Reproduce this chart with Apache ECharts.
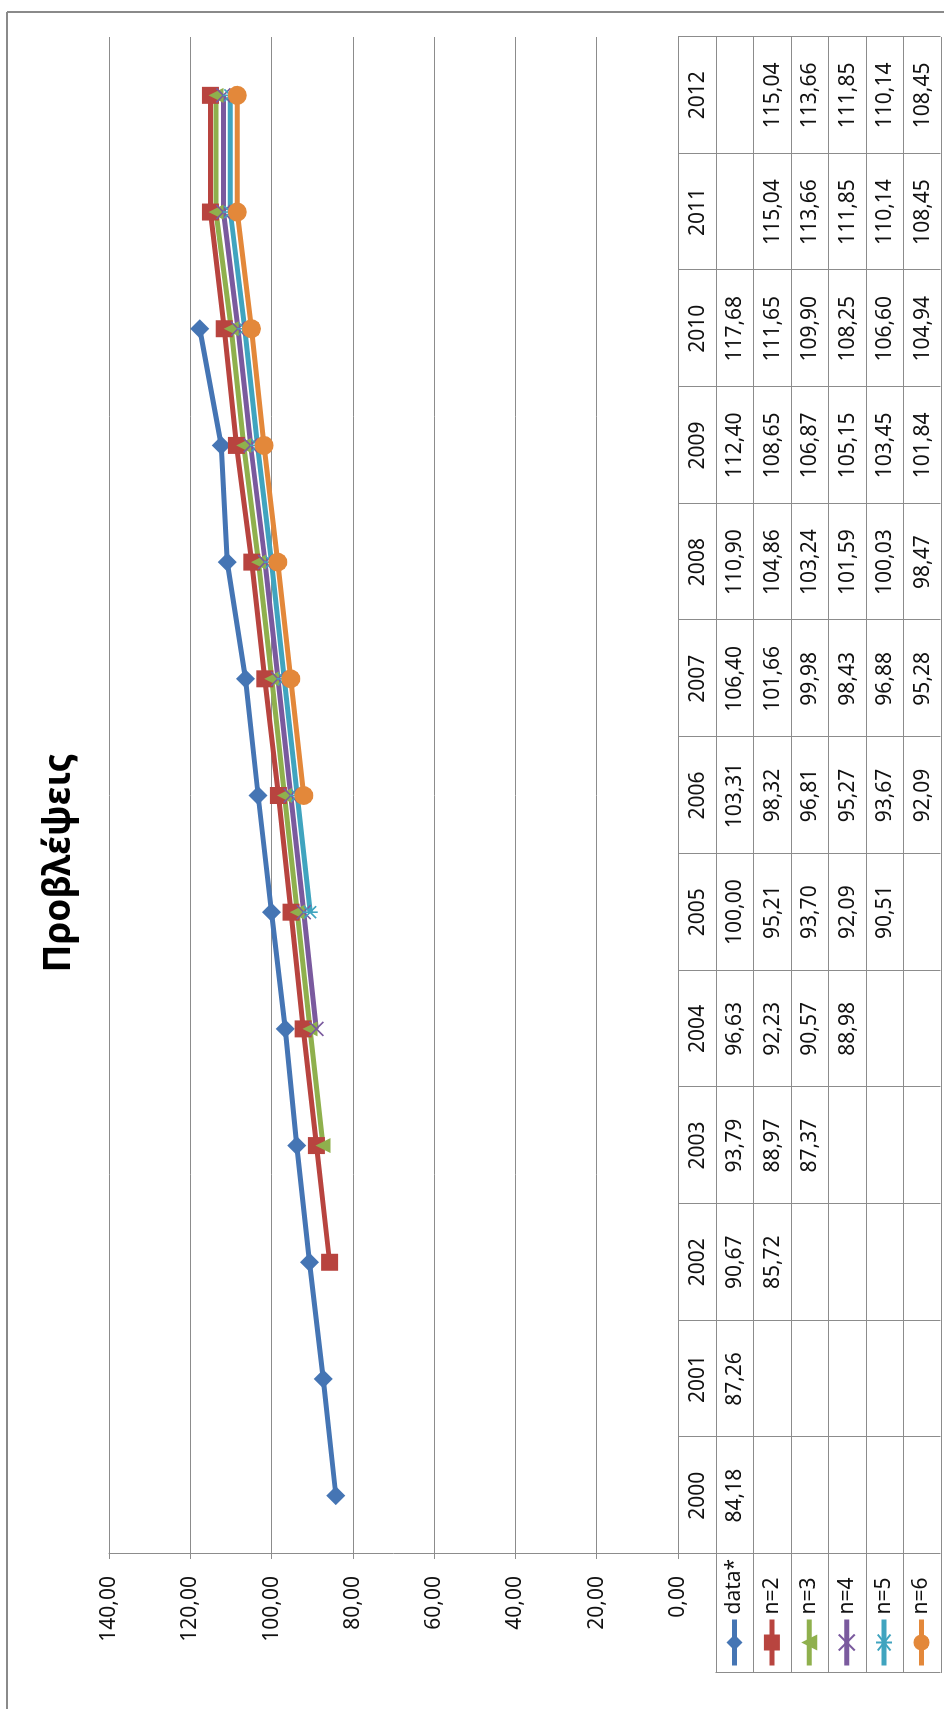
<!DOCTYPE html>
<html>
<head>
<meta charset="utf-8">
<script src="https://cdn.jsdelivr.net/npm/echarts@6/dist/echarts.min.js"></script>
<style>
  html, body { margin: 0; padding: 0; width: 944px; height: 1709px; overflow: hidden; background: #fff; }
  /* the chart is drawn landscape and turned a quarter turn to the left */
  #chart {
    position: absolute; left: 0; top: 0;
    width: 1709px; height: 944px;
    transform-origin: 0 0;
    transform: translateY(1709px) rotate(-90deg);
  }
</style>
</head>
<body>
<div id="chart"></div>
<script>
const years = ['2000', '2001', '2002', '2003', '2004', '2005', '2006', '2007', '2008', '2009', '2010', '2011', '2012'];
const seriesNames = ['data*', 'n=2', 'n=3', 'n=4', 'n=5', 'n=6'];
const dataStar = [84.18, 87.26, 90.67, 93.79, 96.63, 100.00, 103.31, 106.40, 110.90, 112.40, 117.68, null, null];
const n2 = [null, null, 85.72, 88.97, 92.23, 95.21, 98.32, 101.66, 104.86, 108.65, 111.65, 115.04, 115.04];
const n3 = [null, null, null, 87.37, 90.57, 93.70, 96.81, 99.98, 103.24, 106.87, 109.90, 113.66, 113.66];
const n4 = [null, null, null, null, 88.98, 92.09, 95.27, 98.43, 101.59, 105.15, 108.25, 111.85, 111.85];
const n5 = [null, null, null, null, null, 90.51, 93.67, 96.88, 100.03, 103.45, 106.60, 110.14, 110.14];
const n6 = [null, null, null, null, null, null, 92.09, 95.28, 98.47, 101.84, 104.94, 108.45, 108.45];
const valueMin = 0;
const valueMax = 140;
const valueStep = 20;

(function() {
  const chart = echarts.init(document.getElementById('chart'));
  const font = '"Noto Sans", sans-serif';
  const gray = '#8c8c8c';
  const colors = ['#4575B4', '#B8443F', '#8FB04D', '#7A5A9E', '#40A4BF', '#E3883A'];
  const allValues = [dataStar, n2, n3, n4, n5, n6];
  const symbols = [
    ['diamond', 19],
    ['rect', 17],
    ['triangle', 15],
    ['path://M0,0L10,10M10,0L0,10', 14],
    ['path://M1,1L9,9M9,1L1,9M5,0L5,10', 15],
    ['circle', 19]
  ];

  const fmt = v => v.toFixed(2).replace('.', ',');

  const series = seriesNames.map((name, i) => {
    const isPath = symbols[i][0].indexOf('path://') === 0;
    return {
      name: name,
      type: 'line',
      data: allValues[i],
      symbol: symbols[i][0],
      symbolSize: symbols[i][1],
      symbolKeepAspect: true,
      showAllSymbol: true,
      connectNulls: false,
      lineStyle: { color: colors[i], width: 5 },
      itemStyle: isPath ?
        { color: colors[i], borderColor: colors[i], borderWidth: 1.6 } :
        { color: colors[i], borderWidth: 0 },
      emphasis: { disabled: true }
    };
  });

  const option = {
    animation: false,
    backgroundColor: '#fff',
    title: {
      text: 'Προβλέψεις',
      left: 846,
      textAlign: 'center',
      top: 41,
      padding: 0,
      textStyle: { fontFamily: font, fontSize: 37, fontWeight: 'bold', color: '#000' }
    },
    legend: {
      orient: 'vertical',
      left: 41,
      top: 724,
      height: 240,
      padding: 0,
      itemWidth: 46,
      itemHeight: 20,
      itemGap: 16.4,
      selectedMode: false,
      lineStyle: { width: 5 },
      textStyle: { fontFamily: font, fontSize: 21, color: '#111' },
      data: seriesNames
    },
    grid: { left: 155, right: 37, top: 109, bottom: 266 },
    xAxis: {
      type: 'category',
      data: years,
      boundaryGap: true,
      axisLine: { show: false },
      axisTick: { show: false },
      axisLabel: { show: false },
      splitLine: { show: false }
    },
    yAxis: {
      type: 'value',
      min: valueMin,
      max: valueMax,
      interval: valueStep,
      axisLine: { show: true, lineStyle: { color: gray, width: 1 } },
      axisTick: { show: true, length: 5, lineStyle: { color: gray } },
      axisLabel: {
        margin: 22,
        fontFamily: font,
        fontSize: 21,
        color: '#111',
        formatter: v => fmt(v)
      },
      splitLine: { show: true, lineStyle: { color: gray, width: 1 } }
    },
    series: series
  };

  chart.setOption(option);

  // data table under the plot, laid out on the category axis
  const c0 = chart.convertToPixel({ xAxisIndex: 0 }, 0);
  const c1 = chart.convertToPixel({ xAxisIndex: 0 }, 1);
  const colW = c1 - c0;
  const tableLeft = c0 - colW / 2;
  const tableRight = tableLeft + colW * years.length;
  const tableTop = chart.convertToPixel({ yAxisIndex: 0 }, valueMin);
  const rowH = 37.5;
  const rows = seriesNames.length + 1;
  const tableBottom = tableTop + rowH * rows;
  const legendLeft = 36;
  const px = v => Math.round(v) + 0.5;

  const elements = [];
  const line = (x1, y1, x2, y2, w, c) => elements.push({
    type: 'line',
    silent: true,
    shape: { x1: x1, y1: y1, x2: x2, y2: y2 },
    style: { stroke: c || gray, lineWidth: w || 1 }
  });
  const text = (s, x, y) => elements.push({
    type: 'text',
    silent: true,
    style: {
      text: s, x: x, y: y,
      align: 'center', verticalAlign: 'middle',
      fontFamily: font, fontSize: 21, fill: '#111'
    }
  });

  line(tableLeft, px(tableTop), tableRight, px(tableTop));
  for (let r = 1; r <= rows; r++) {
    const y = px(tableTop + r * rowH);
    line(legendLeft, y, tableRight, y);
  }
  for (let k = 0; k <= years.length; k++) {
    const x = px(tableLeft + k * colW);
    line(x, tableTop, x, tableBottom);
  }
  line(px(legendLeft), tableTop + rowH, px(legendLeft), tableBottom);

  years.forEach((yr, i) => {
    const cx = chart.convertToPixel({ xAxisIndex: 0 }, i);
    text(yr, cx, tableTop + rowH / 2 + 1);
    allValues.forEach((vals, s) => {
      if (vals[i] != null) {
        text(fmt(vals[i]), cx, tableTop + rowH * (s + 1) + rowH / 2 + 1);
      }
    });
  });

  // chart frame (left and top edges in the photo)
  line(0, 7, 1697, 7, 2, '#8a8a8a');
  line(1697, 7, 1697, 944, 2, '#8a8a8a');

  chart.setOption({ graphic: { elements: elements } });
}());
</script>
</body>
</html>
